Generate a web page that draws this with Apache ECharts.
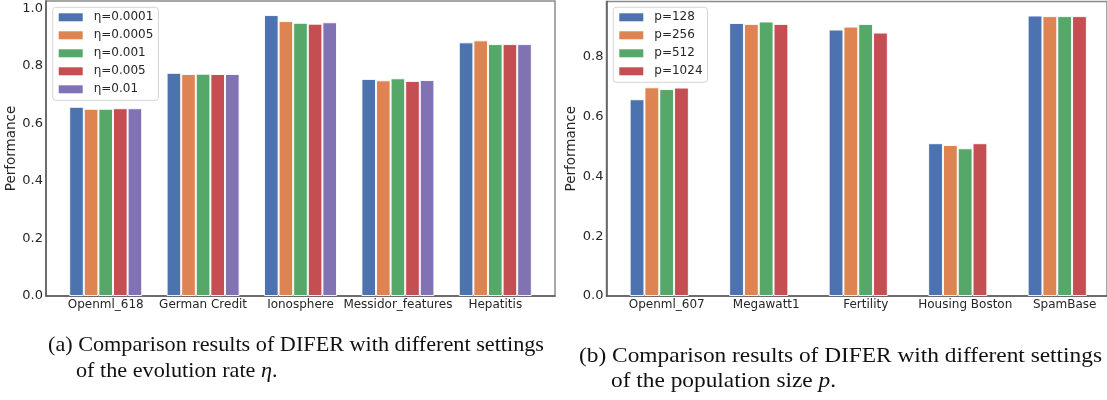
<!DOCTYPE html>
<html>
<head>
<meta charset="utf-8">
<script src="https://cdn.jsdelivr.net/npm/echarts@6/dist/echarts.min.js"></script>
<style>
html,body{margin:0;padding:0;background:#fff;}
#chart{width:1107px;height:400px;}
</style>
</head>
<body>
<div id="chart"></div>
<script>
// ---------- data ----------
const categoriesA = ['Openml_618', 'German Credit', 'Ionosphere', 'Messidor_features', 'Hepatitis'];
const seriesNamesA = ['η=0.0001', 'η=0.0005', 'η=0.001', 'η=0.005', 'η=0.01'];
const eta0001 = [0.658, 0.776, 0.977, 0.755, 0.882];
const eta0005 = [0.651, 0.772, 0.956, 0.750, 0.889];
const eta001  = [0.651, 0.773, 0.950, 0.757, 0.876];
const eta005  = [0.653, 0.772, 0.947, 0.748, 0.876];
const eta01   = [0.653, 0.772, 0.952, 0.751, 0.876];

const categoriesB = ['Openml_607', 'Megawatt1', 'Fertility', 'Housing Boston', 'SpamBase'];
const seriesNamesB = ['p=128', 'p=256', 'p=512', 'p=1024'];
const p128  = [0.658, 0.913, 0.891, 0.511, 0.938];
const p256  = [0.698, 0.910, 0.901, 0.505, 0.936];
const p512  = [0.692, 0.918, 0.910, 0.494, 0.936];
const p1024 = [0.697, 0.910, 0.881, 0.511, 0.936];

const yTickLabelsA = ['0.0', '0.2', '0.4', '0.6', '0.8', '1.0'];
const yTickLabelsB = ['0.0', '0.2', '0.4', '0.6', '0.8'];
const yAxisTitle = 'Performance';

const captionA1 = '(a) Comparison results of DIFER with different settings';
const captionA2 = 'of the evolution rate {i|η}.';
const captionB1 = '(b) Comparison results of DIFER with different settings';
const captionB2 = 'of the population size {i|p}.';

// ---------- styling ----------
const colors = ['#4C72B0', '#DD8452', '#55A868', '#C44E52', '#8172B3'];
const sans = 'DejaVu Sans';
const serif = 'Liberation Serif';
const textColor = '#262626';

const valsA = [eta0001, eta0005, eta001, eta005, eta01];
const valsB = [p128, p256, p512, p1024];
const maxA = Math.max(...valsA.flat()) * 1.05;
const maxB = Math.max(...valsB.flat()) * 1.05;

function labelFmt(list) {
  return function (v) {
    const s = v.toFixed(1);
    return list.indexOf(s) >= 0 ? s : '';
  };
}

// measure caption widths for horizontal fitting
const cv = document.createElement('canvas').getContext('2d');
function measure(txt, size) {
  cv.font = size + 'px "' + serif + '"';
  return cv.measureText(txt).width;
}
const capSizeA = 21, capSizeB = 22;
const scaleA = 496 / measure(captionA1, capSizeA);
const scaleB = 523 / measure(captionB1, capSizeB);

function capText(txt, x, y, size, sx) {
  return {
    type: 'text', x: x, y: y, scaleX: sx,
    style: {
      text: txt, x: 0, y: 0, fill: '#111',
      fontSize: size, fontFamily: serif, verticalAlign: 'middle', align: 'left',
      rich: { i: { fontStyle: 'italic', fontSize: size, fontFamily: serif, fill: '#111' } }
    }
  };
}

const outerGridA = { left: 46, top: 1, width: 509, height: 295 };
const innerGridA = { left: 57, top: 1, width: 487, height: 295 };
const outerGridB = { left: 606.5, top: 1.5, width: 509, height: 294.5 };
const innerGridB = { left: 609.5, top: 1.5, width: 502.75, height: 294.5 };

function outerX(gi) {
  return {
    type: 'value', gridIndex: gi, min: 0, max: 1, show: true,
    axisLine: { show: true, lineStyle: { color: '#5a5a5a', width: 1.5 } },
    axisTick: { show: false }, axisLabel: { show: false }, splitLine: { show: false }
  };
}
function outerY(gi, max, labels, gap) {
  return {
    type: 'value', gridIndex: gi, min: 0, max: max, interval: 0.2,
    name: yAxisTitle, nameLocation: 'middle', nameGap: gap,
    nameTextStyle: { fontFamily: sans, fontSize: 13.5, color: textColor },
    axisLine: { show: true, lineStyle: { color: '#5a5a5a', width: 1.5 } },
    axisTick: { show: false }, splitLine: { show: false },
    axisLabel: { formatter: labelFmt(labels), showMaxLabel: false, margin: 3,
      fontFamily: sans, fontSize: 13, color: textColor }
  };
}
function innerX(gi, cats, pad) {
  return {
    type: 'category', gridIndex: gi, data: cats,
    axisLine: { show: false }, axisTick: { show: false }, splitLine: { show: false },
    axisLabel: { interval: 0, margin: 3, fontFamily: sans, fontSize: 12, color: textColor,
      padding: [0, 0, 0, pad] }
  };
}
function innerY(gi, max) {
  return { type: 'value', gridIndex: gi, min: 0, max: max, show: false, splitLine: { show: false } };
}

const series = [];
valsA.forEach((d, i) => series.push({
  name: seriesNamesA[i], type: 'bar', xAxisIndex: 1, yAxisIndex: 1, data: d,
  barWidth: 14.6, barGap: '0%', itemStyle: { color: colors[i], borderColor: 'rgba(255,255,255,0.9)', borderWidth: 1 }
}));
valsB.forEach((d, i) => series.push({
  name: seriesNamesB[i], type: 'bar', xAxisIndex: 3, yAxisIndex: 3, data: d,
  barWidth: 14.8, barGap: '0%', itemStyle: { color: colors[i], borderColor: 'rgba(255,255,255,0.9)', borderWidth: 1 }
}));

function legend(names, left) {
  return {
    data: names, orient: 'vertical', left: left, top: 7.3,
    itemWidth: 24, itemHeight: 8, itemGap: 4, icon: 'rect',
    padding: [3, 5, 4, 6],
    backgroundColor: 'rgba(255,255,255,0.85)', borderColor: '#d4d4d4', borderWidth: 1, borderRadius: 3,
    itemStyle: { borderWidth: 0 },
    textStyle: { fontFamily: sans, fontSize: 12, lineHeight: 14, color: textColor, padding: [0, 0, 0, 6] }
  };
}

const chart = echarts.init(document.getElementById('chart'), null, { renderer: 'canvas' });
chart.setOption({
  backgroundColor: '#fff',
  animation: false,
  grid: [
    Object.assign({ show: true, borderColor: '#8a8a8a', borderWidth: 1.5 }, outerGridA),
    innerGridA,
    Object.assign({ show: true, borderColor: '#8a8a8a', borderWidth: 1.5 }, outerGridB),
    innerGridB
  ],
  xAxis: [outerX(0), innerX(1, categoriesA, 0), outerX(2), innerX(3, categoriesB, 15)],
  yAxis: [outerY(0, maxA, yTickLabelsA, 22), innerY(1, maxA), outerY(2, maxB, yTickLabelsB, 21), innerY(3, maxB)],
  legend: [legend(seriesNamesA, 52.7), legend(seriesNamesB, 613.3)],
  series: series,
  graphic: [
    capText(captionA1, 48, 345, capSizeA, scaleA),
    capText(captionA2, 76, 371, capSizeA, scaleA),
    capText(captionB1, 579, 356, capSizeB, scaleB),
    capText(captionB2, 611, 381, capSizeB, scaleB)
  ]
});
</script>
</body>
</html>
